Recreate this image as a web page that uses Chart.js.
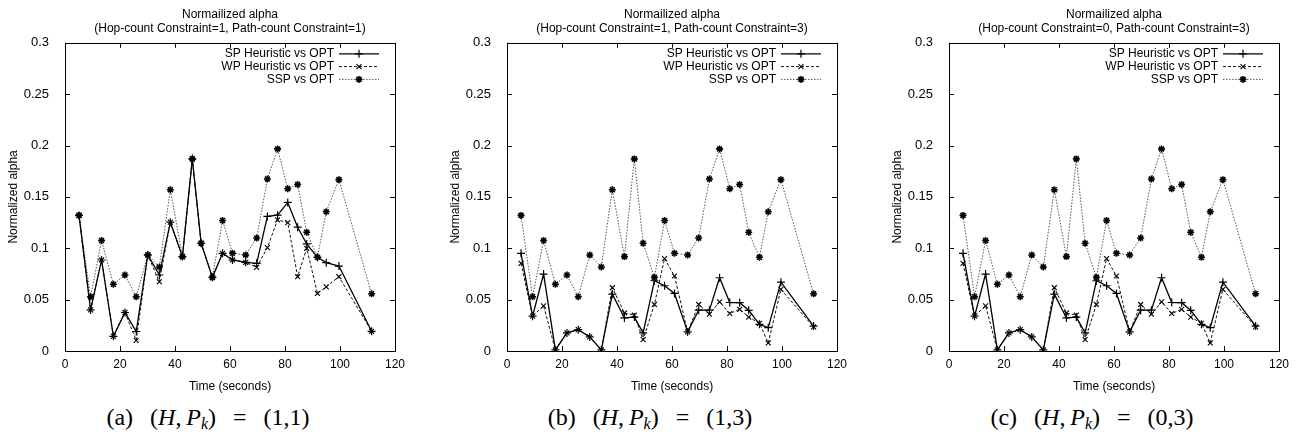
<!DOCTYPE html>
<html>
<head>
<meta charset="utf-8">
<script src="https://cdn.jsdelivr.net/npm/chart.js@4.4.1/dist/chart.umd.min.js"></script>
<style>
body { margin: 0; background: #fff; width: 1299px; height: 445px; position: relative; overflow: hidden; }
.panel { position: absolute; top: 0; width: 416px; height: 445px; }
.panel canvas { position: absolute; left: 0; top: 0; }
.cap { position: absolute; top: 404px; left: 0; width: 416px; text-align: center; white-space: nowrap;
       font-family: 'Liberation Serif', 'DejaVu Serif', serif; font-size: 24px; word-spacing: 11px; color: #000; }
.cap sub { font-size: 16px; vertical-align: -4px; }
</style>
</head>
<body>
<div class="panel" style="left:0px"><canvas id="chart-a" width="416" height="400"></canvas>
  <div class="cap">(a) (<i>H</i>,&thinsp;<i>P<sub>k</sub></i>) = (1,1)</div></div>
<div class="panel" style="left:442px"><canvas id="chart-b" width="416" height="400"></canvas>
  <div class="cap">(b) (<i>H</i>,&thinsp;<i>P<sub>k</sub></i>) = (1,3)</div></div>
<div class="panel" style="left:884px"><canvas id="chart-c" width="416" height="400"></canvas>
  <div class="cap">(c) (<i>H</i>,&thinsp;<i>P<sub>k</sub></i>) = (0,3)</div></div>
<script>
'use strict';

// time of each sample (seconds), same in all three runs
const timeSec = [5.1, 9.3, 13.3, 17.6, 21.8, 25.9, 30.1, 34.3, 38.3, 42.7, 46.3, 49.5, 53.6,
                 57.3, 60.9, 65.7, 69.7, 73.6, 77.3, 81.0, 84.6, 87.9, 91.8, 95.0, 99.6, 111.5];

// SSP vs OPT is the same curve in every panel
const sspVsOpt = [0.132, 0.0528, 0.1075, 0.065, 0.074, 0.0528, 0.0935, 0.0818, 0.157, 0.0919, 0.187, 0.1049, 0.0717,
                  0.127, 0.0951, 0.0935, 0.110, 0.1674, 0.1967, 0.158, 0.162, 0.1156, 0.0912, 0.1355, 0.1668, 0.0557];

// (a) H=1, Pk=1
const spA = [0.132, 0.040, 0.0886, 0.0143, 0.0375, 0.019, 0.0935, 0.074, 0.1254, 0.0919, 0.187, 0.1049, 0.0717,
             0.0951, 0.0886, 0.0863, 0.0853, 0.131, 0.1322, 0.1446, 0.1205, 0.1042, 0.0912, 0.086, 0.0827, 0.0192];
const wpA = [0.132, 0.040, 0.0886, 0.0143, 0.0375, 0.0104, 0.0935, 0.0674, 0.1254, 0.0919, 0.187, 0.1049, 0.0717,
             0.0951, 0.0886, 0.0863, 0.0814, 0.1007, 0.1277, 0.125, 0.0723, 0.100, 0.056, 0.0625, 0.0723, 0.0192];

// (b) H=1, Pk=3
const spB = [0.0951, 0.0339, 0.0749, 0.001, 0.0176, 0.0208, 0.0137, 0.001, 0.0554, 0.0322, 0.033, 0.0176, 0.0684,
             0.0635, 0.056, 0.0186, 0.0397, 0.0397, 0.0713, 0.0472, 0.047, 0.0396, 0.026, 0.0227, 0.067, 0.0243];
const wpB = [0.0853, 0.0339, 0.044, 0.001, 0.0176, 0.0208, 0.0137, 0.001, 0.0616, 0.037, 0.035, 0.011, 0.0453,
             0.090, 0.073, 0.0186, 0.0453, 0.0358, 0.0479, 0.0365, 0.0406, 0.033, 0.027, 0.0078, 0.060, 0.0234];

// (c) H=0, Pk=3 (looks identical to b)
const spC = [0.0951, 0.0339, 0.0749, 0.001, 0.0176, 0.0208, 0.0137, 0.001, 0.0554, 0.0322, 0.033, 0.0176, 0.0684,
             0.0635, 0.056, 0.0186, 0.0397, 0.0397, 0.0713, 0.0472, 0.047, 0.0396, 0.026, 0.0227, 0.067, 0.0243];
const wpC = [0.0853, 0.0339, 0.044, 0.001, 0.0176, 0.0208, 0.0137, 0.001, 0.0616, 0.037, 0.035, 0.011, 0.0453,
             0.090, 0.073, 0.0186, 0.0453, 0.0358, 0.0479, 0.0365, 0.0406, 0.033, 0.027, 0.0078, 0.060, 0.0234];

const seriesNames = ['SP Heuristic vs OPT', 'WP Heuristic vs OPT', 'SSP vs OPT'];
const subTitles = ['(Hop-count Constraint=1, Path-count Constraint=1)',
                   '(Hop-count Constraint=1, Path-count Constraint=3)',
                   '(Hop-count Constraint=0, Path-count Constraint=3)'];

const sansFont = "'Liberation Sans', Arial, sans-serif";

function toPoints(vals) {
    return vals.map((v, i) => ({x: timeSec[i], y: v}));
}

// gnuplot style box with inward ticks on all four sides
const frameTicks = {
    id: 'frameTicks',
    afterDraw(chart) {
	const {ctx, chartArea: a, scales: {x, y}} = chart;
	const len = 5;
	ctx.save();
	ctx.strokeStyle = '#000';
	ctx.lineWidth = 1;
	ctx.setLineDash([]);
	ctx.strokeRect(Math.round(a.left) + .5, Math.round(a.top) + .5,
		       Math.round(a.width), Math.round(a.height));
	ctx.beginPath();
	x.ticks.forEach(t => {
	    const px = Math.round(x.getPixelForValue(t.value)) + .5;
	    ctx.moveTo(px, a.bottom); ctx.lineTo(px, a.bottom - len);
	    ctx.moveTo(px, a.top); ctx.lineTo(px, a.top + len);
	});
	y.ticks.forEach(t => {
	    const py = Math.round(y.getPixelForValue(t.value)) + .5;
	    ctx.moveTo(a.left, py); ctx.lineTo(a.left + len, py);
	    ctx.moveTo(a.right, py); ctx.lineTo(a.right - len, py);
	});
	ctx.stroke();
	ctx.restore();
    }
};

// legend in the top right corner, text to the left of the sample
const insideLegend = {
    id: 'insideLegend',
    afterDatasetsDraw(chart) {
	const {ctx, chartArea: a} = chart;
	ctx.save();
	ctx.font = '12px ' + sansFont;
	ctx.textAlign = 'right';
	ctx.textBaseline = 'middle';
	chart.data.datasets.forEach((ds, i) => {
	    const yy = a.top + 11 + i * 12.8;
	    ctx.fillStyle = '#000';
	    ctx.fillText(ds.label, a.right - 61, yy);
	    ctx.strokeStyle = ds.borderColor;
	    ctx.lineWidth = ds.borderWidth;
	    ctx.setLineDash(ds.borderDash || []);
	    ctx.beginPath();
	    ctx.moveTo(a.right - 56, yy);
	    ctx.lineTo(a.right - 16, yy);
	    ctx.stroke();
	    ctx.setLineDash([]);
	    ctx.strokeStyle = ds.pointBorderColor;
	    ctx.fillStyle = ds.pointBorderColor;
	    ctx.lineWidth = ds.pointBorderWidth;
	    Chart.helpers.drawPoint(ctx, {pointStyle: ds.pointStyle, radius: ds.pointRadius,
					  borderWidth: ds.pointBorderWidth, rotation: 0}, a.right - 36, yy);
	});
	ctx.restore();
    }
};

function makeChart(id, subTitle, sp, wp) {
    const cfg = {
	type: 'line',
	data: {
	    datasets: [{
		label: seriesNames[0],
		data: toPoints(sp),
		borderColor: '#000',
		borderWidth: 1.3,
		pointStyle: 'cross',
		pointRadius: 4,
		pointBorderColor: '#000',
		pointBorderWidth: 1.2,
	    }, {
		label: seriesNames[1],
		data: toPoints(wp),
		borderColor: '#111',
		borderWidth: 1,
		borderDash: [3, 2],
		pointStyle: 'crossRot',
		pointRadius: 3.5,
		pointBorderColor: '#000',
		pointBorderWidth: 1.1,
	    }, {
		label: seriesNames[2],
		data: toPoints(sspVsOpt),
		borderColor: '#555',
		borderWidth: 1,
		borderDash: [1.5, 1.5],
		pointStyle: 'star',
		pointRadius: 3.5,
		pointBorderColor: '#000',
		pointBorderWidth: 1.6,
	    }],
	},
	options: {
	    responsive: false,
	    animation: false,
	    devicePixelRatio: 1,
	    layout: {padding: {left: 0, right: 21, top: 0, bottom: 0}},
	    elements: {line: {tension: 0, fill: false}},
	    plugins: {
		legend: {display: false},
		tooltip: {enabled: false},
		title: {
		    display: true,
		    fullSize: false,
		    text: ['Normailized alpha', subTitle],
		    color: '#000',
		    font: {family: sansFont, size: 12, weight: 'normal', lineHeight: 1.2},
		    padding: {top: 7, bottom: 7},
		},
	    },
	    scales: {
		x: {
		    type: 'linear',
		    min: 0,
		    max: 120,
		    grid: {display: false},
		    border: {display: false},
		    ticks: {stepSize: 20, padding: -2, color: '#000', maxRotation: 0,
			    font: {family: sansFont, size: 12}},
		    title: {display: true, text: 'Time (seconds)', color: '#000',
			    font: {family: sansFont, size: 12}, padding: {top: 4, bottom: 6}},
		    afterFit: s => { s.height = 49; },
		},
		y: {
		    min: 0,
		    max: 0.3,
		    grid: {display: false},
		    border: {display: false},
		    ticks: {stepSize: 0.05, padding: 8, color: '#000',
			    font: {family: sansFont, size: 13},
			    callback: v => String(+v.toFixed(2))},
		    title: {display: true, text: 'Normalized alpha', color: '#000',
			    font: {family: sansFont, size: 12}, padding: {top: 6, bottom: 4}},
		    afterFit: s => { s.width = 65; },
		},
	    },
	},
	plugins: [frameTicks, insideLegend],
    };
    return new Chart(document.getElementById(id), cfg);
}

makeChart('chart-a', subTitles[0], spA, wpA);
makeChart('chart-b', subTitles[1], spB, wpB);
makeChart('chart-c', subTitles[2], spC, wpC);
</script>
</body>
</html>
